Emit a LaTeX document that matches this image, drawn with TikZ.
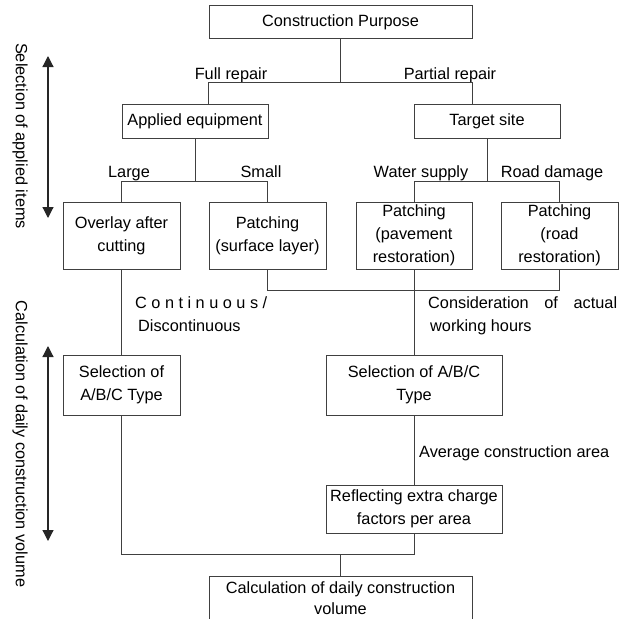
\documentclass[tikz,border=0pt]{standalone}
\usepackage{fontspec}
\setmainfont{Liberation Sans}
\usepackage{tikz}
\usetikzlibrary{arrows.meta, positioning}

\begin{document}
\begin{tikzpicture}[
  x=1pt, y=-1pt,
  font=\fontsize{16.3}{23}\selectfont, text=black,
  box/.style={draw=black!75, line width=1pt, align=center, inner sep=1pt},
  lbl/.style={inner sep=0pt, anchor=base},
  ln/.style={draw=black!75, line width=1pt},
  arr/.style={{Triangle[length=11pt,width=11pt]}-{Triangle[length=11pt,width=11pt]},
              draw=black!85, line width=1.2pt}
]
  \path[use as bounding box] (0,0) rectangle (626,618);
  \clip (0,0) rectangle (626,618);

  % boxes
  \node[box, minimum width=263pt, minimum height=33pt] (purp) at (340.5,22.5) {Construction Purpose};
  \node[box, minimum width=146pt, minimum height=34pt] (equip) at (195,121) {Applied equipment};
  \node[box, minimum width=146pt, minimum height=34pt] (site) at (487,121) {Target site};
  \node[box, minimum width=117pt, minimum height=67pt] (overlay) at (121.5,235.5) {Overlay after\\cutting};
  \node[box, minimum width=117pt, minimum height=67pt] (surf) at (267.5,235.5) {Patching\\(surface layer)};
  \node[box, minimum width=116pt, minimum height=67pt] (pave) at (414,235.5) {Patching\\(pavement\\restoration)};
  \node[box, minimum width=117pt, minimum height=67pt] (road) at (559.5,235.5) {Patching\\(road\\restoration)};
  \node[box, minimum width=117pt, minimum height=60pt] (selL) at (121.5,385) {Selection of\\A/B/C Type};
  \node[box, minimum width=176pt, minimum height=60pt] (selR) at (414,385) {Selection of A/B/C\\Type};
  \node[box, minimum width=176pt, minimum height=48pt] (refl) at (414,509) {Reflecting extra charge\\factors per area};
  \node[box, minimum width=263pt, minimum height=44pt, font=\fontsize{16.3}{21.5}\selectfont]
    (calc) at (340.5,598) {Calculation of daily construction\\volume};

  % branch labels
  \node[lbl] (full) at (231,79) {Full repair};
  \node[lbl] (part) at (450,79) {Partial repair};
  \node[lbl] (large) at (129,177) {Large};
  \node[lbl] (small) at (261,177) {Small};
  \node[lbl] (water) at (421,177) {Water supply};
  \node[lbl] (dmg) at (552,177) {Road damage};
  \node[lbl, anchor=base west] (cont) at (135,308)
    {\makebox[132pt][s]{C\hfill o\hfill n\hfill t\hfill i\hfill n\hfill u\hfill o\hfill u\hfill s\hfill /}};
  \node[lbl, anchor=base west] (disc) at (138,331) {Discontinuous};
  \node[lbl, anchor=base west] (cons) at (428,308) {\makebox[189pt][s]{Consideration of actual}};
  \node[lbl, anchor=base west] (work) at (430,331) {working hours};
  \node[lbl, anchor=base west] (avg) at (419,457) {Average construction area};

  % side stages
  \node[inner sep=0pt, rotate=-90] (stage1) at (20,136) {Selection of applied items};
  \node[inner sep=0pt, rotate=-90] (stage2) at (20,444) {Calculation of daily construction volume};
  \coordinate (s1t) at (48,56);
  \coordinate (s1b) at (48,218);
  \coordinate (s2t) at (48,346);
  \coordinate (s2b) at (48,541);
  \draw[arr] (s1t) -- (s1b);
  \draw[arr] (s2t) -- (s2b);

  % connectors
  \coordinate (jp) at (340.5,82);
  \draw[ln] (purp) -- (jp);
  \draw[ln] (equip.north -| purp.west) -- (jp -| purp.west) -- (jp -| purp.east) -- (site.north -| purp.east);
  \coordinate (je) at (equip.south |- 0,181);
  \draw[ln] (equip) -- (je);
  \draw[ln] (overlay.north) -- (overlay.north |- je) -- (surf.north |- je) -- (surf.north);
  \coordinate (js) at (site.south |- 0,181);
  \draw[ln] (site) -- (js);
  \draw[ln] (pave.north) -- (pave.north |- js) -- (road.north |- js) -- (road.north);
  \draw[ln] (overlay) -- (selL);
  \coordinate (jr) at (surf.south |- 0,290);
  \draw[ln] (surf.south) -- (jr) -- (jr -| road.south) -- (road.south);
  \draw[ln] (pave) -- (selR);
  \draw[ln] (selR) -- (refl);
  \coordinate (jb) at (calc.north |- 0,554);
  \draw[ln] (selL.south) -- (selL.south |- jb) -- (refl.south |- jb) -- (refl.south);
  \draw[ln] (jb) -- (calc);
\end{tikzpicture}
\end{document}
